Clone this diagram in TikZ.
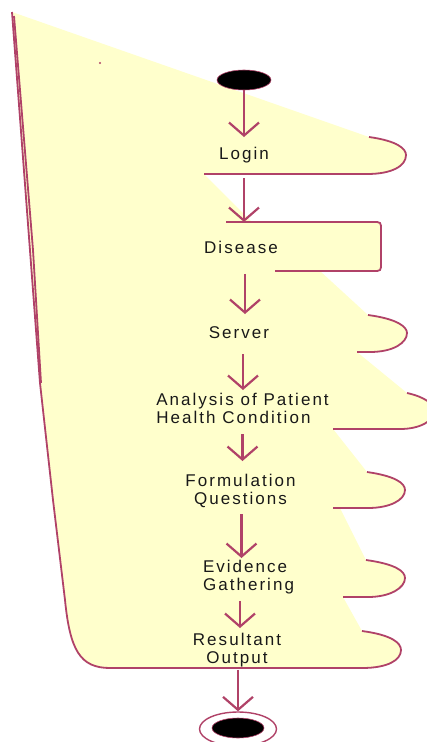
\documentclass[tikz,border=0pt]{standalone}
\usepackage{fontspec}
\setmainfont{Liberation Sans}
\usetikzlibrary{arrows.meta,shapes.geometric}
\definecolor{umlline}{RGB}{176,66,104}
\definecolor{umlfill}{RGB}{255,255,204}

\begin{document}
\begin{tikzpicture}[x=1pt, y=-1pt,
    act/.style={inner sep=0pt, anchor=north, text=black!90,
        font=\fontsize{17}{17.5}\selectfont\addfontfeature{LetterSpace=12}},
    flow/.style={draw=umlline, line width=2.2pt,
        -{Straight Barb[length=13pt, width=30pt, line width=2.2pt]}},
    rim/.style={draw=umlline, line width=1.8pt},
    startdot/.style={ellipse, fill=black, draw=umlline, line width=0.6pt,
        minimum width=54pt, minimum height=20pt, inner sep=0pt},
    endring/.style={ellipse, draw=umlline, line width=1.4pt,
        minimum width=77pt, minimum height=34pt, inner sep=0pt}
]
    \useasboundingbox (0,0) rectangle (426,742);

    % yellow partition area
    \fill[umlfill] (12,12) -- (369,137)
        .. controls (398,141) and (406,149) .. (406,155)
        .. controls (406,166) and (392,174) .. (367,174) -- (204,174)
        -- (252,222) -- (373,222) .. controls (381,222) .. (381,230)
        -- (381,263) .. controls (381,271) .. (373,271) -- (320,271)
        -- (368,315) .. controls (398,319) and (407,327) .. (407,333)
        .. controls (407,343) and (393,352) .. (370,352) -- (357,352)
        -- (407,393) .. controls (425,397) and (434,404) .. (434,411)
        .. controls (434,421) and (420,429) .. (400,429) -- (333,429)
        -- (367,472) .. controls (395,476) and (405,483) .. (405,490)
        .. controls (405,500) and (390,508) .. (368,508) -- (340,508)
        -- (366,560) .. controls (395,564) and (405,571) .. (405,578)
        .. controls (405,588) and (390,597) .. (368,597) -- (343,597)
        -- (362,631) .. controls (392,635) and (401,643) .. (401,650)
        .. controls (401,660) and (388,668) .. (362,668) -- (110,668)
        .. controls (80,668) and (70,650) .. (65,600)
        -- (53,500) -- (40,383) -- cycle;

    % outlines of the area
    \draw[rim] (369,137) .. controls (398,141) and (406,149) .. (406,155)
        .. controls (406,166) and (392,174) .. (367,174) -- (204,174);
    \draw[rim] (226,222) -- (373,222) .. controls (381,222) .. (381,230)
        -- (381,263) .. controls (381,271) .. (373,271) -- (275,271);
    \draw[rim] (368,315) .. controls (398,319) and (407,327) .. (407,333)
        .. controls (407,343) and (393,352) .. (370,352) -- (357,352);
    \draw[rim] (407,393) .. controls (425,397) and (434,404) .. (434,411)
        .. controls (434,421) and (420,429) .. (400,429) -- (333,429);
    \draw[rim] (367,472) .. controls (395,476) and (405,483) .. (405,490)
        .. controls (405,500) and (390,508) .. (368,508) -- (333,508);
    \draw[rim] (366,560) .. controls (395,564) and (405,571) .. (405,578)
        .. controls (405,588) and (390,597) .. (368,597) -- (343,597);
    \draw[rim] (362,631) .. controls (392,635) and (401,643) .. (401,650)
        .. controls (401,660) and (388,668) .. (362,668) -- (110,668)
        .. controls (80,668) and (70,650) .. (65,600)
        -- (53,500) -- (40,383) -- (12,12);
    \draw[rim] (14,16) -- (33,250) -- (41,383);
    \fill[umlline] (100,63) circle (1.2);

    % activities
    \node[startdot] (start) at (244,80) {};
    \node[act] (login) at (244,147) {Login};
    \node[act] (disease) at (241,241) {Disease};
    \node[act] (server) at (239,326) {Server};
    \node[act, align=left] (analysis) at (242.5,393) {Analysis of Patient\\Health Condition};
    \node[act, align=center] (formulation) at (240.5,474) {Formulation\\Questions};
    \node[act, align=left] (evidence) at (248.5,560) {Evidence\\Gathering};
    \node[act, align=center] (resultant) at (237,633) {Resultant\\Output};
    \node[endring] (finish) at (238,729) {};
    \node[startdot, minimum width=52pt, minimum height=20pt] (finishdot) at (238,728) {};

    \draw[flow, shorten >=10pt] (start.south) -- (start.south |- login.north);
    \draw[flow, shorten <=15pt, shorten >=19pt] (login.south) -- (login.south |- disease.north);
    \draw[flow, shorten <=20pt, shorten >=12pt] ([xshift=4pt]disease.south) -- ([xshift=4pt]disease.south |- server.north);
    \draw[flow, shorten <=16pt, shorten >=3pt] ([xshift=4pt]server.south) -- ([xshift=4pt]server.south |- analysis.north);
    \draw[flow, shorten <=11pt, shorten >=13pt] (analysis.south) -- (analysis.south |- formulation.north);
    \draw[flow, shorten <=7pt, shorten >=2pt] ([xshift=1pt]formulation.south) -- ([xshift=1pt]formulation.south |- evidence.north);
    \draw[flow, shorten <=7pt, shorten >=5pt] ([xshift=3pt]resultant.north |- evidence.south) -- ([xshift=3pt]resultant.north);
    \draw[flow, shorten <=3pt] ([xshift=1pt]resultant.south) -- ([xshift=1pt]resultant.south |- finish.north);
\end{tikzpicture}
\end{document}
